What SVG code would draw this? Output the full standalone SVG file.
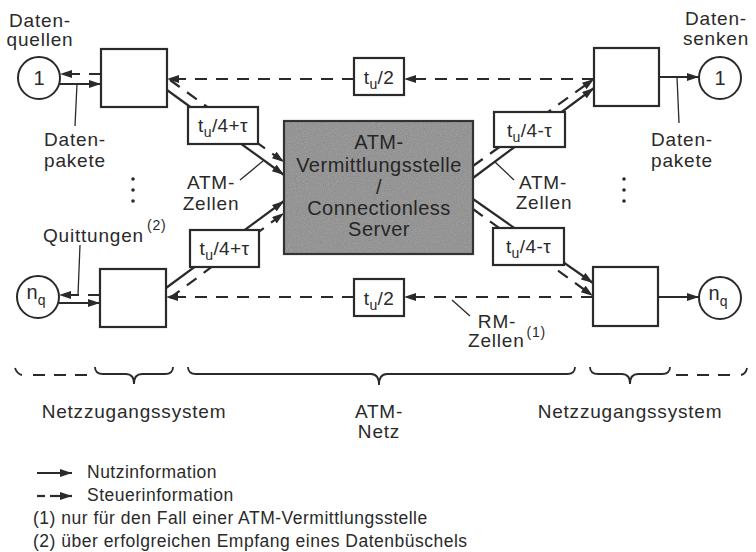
<svg xmlns="http://www.w3.org/2000/svg" width="756" height="552" viewBox="0 0 756 552">
<defs>
<style>
text { font-family: "Liberation Sans", Arial, sans-serif; fill: #2a2a2a; }
.lbl { font-size: 19px; letter-spacing: 0.8px; }
.dl { font-size: 19px; letter-spacing: 0.4px; }
.ctr { font-size: 20px; letter-spacing: 0.5px; fill: #262626; }
.leg { font-size: 17.5px; letter-spacing: 0.5px; }
.box { fill: #fff; stroke: #2a2a2a; stroke-width: 2.2; }
.node { fill: #fff; stroke: #2a2a2a; stroke-width: 2; }
.sol { fill: none; stroke: #2a2a2a; stroke-width: 2.2; }
.dsh { fill: none; stroke: #2a2a2a; stroke-width: 2.2; stroke-dasharray: 12 9; }
.thin { fill: none; stroke: #2a2a2a; stroke-width: 1.3; }
.brace { fill: none; stroke: #2a2a2a; stroke-width: 1.8; }
.arr { marker-end: url(#ah); }
.dot { fill: #2a2a2a; }
</style>
<marker id="ah" markerUnits="userSpaceOnUse" markerWidth="12" markerHeight="8" refX="12" refY="4" orient="auto">
<path d="M0,0 L12,4 L0,8 z" fill="#2a2a2a"/>
</marker>
<filter id="grain" x="0" y="0" width="1" height="1">
<feTurbulence type="fractalNoise" baseFrequency="0.85" numOctaves="2" seed="4"/>
<feColorMatrix type="saturate" values="0"/>
</filter>
</defs>
<rect width="756" height="552" fill="#fff"/>

<!-- connectors -->
<g id="connectors">
<line class="sol arr" x1="60" y1="84" x2="101" y2="84"/>
<line class="dsh arr" x1="101" y1="74" x2="60" y2="74"/>
<line class="sol arr" x1="59" y1="303" x2="100" y2="303"/>
<line class="dsh arr" x1="100" y1="295" x2="59" y2="295"/>
<line class="sol arr" x1="659" y1="77" x2="699" y2="77"/>
<line class="sol arr" x1="658" y1="297" x2="699" y2="297"/>
<line class="dsh arr" x1="594" y1="79" x2="404" y2="79"/>
<line class="dsh arr" x1="354" y1="79" x2="167" y2="79"/>
<line class="dsh arr" x1="593" y1="297" x2="404" y2="297"/>
<line class="dsh arr" x1="354" y1="297" x2="166" y2="297"/>
<line class="sol arr" x1="167" y1="90" x2="284" y2="175"/>
<line class="dsh arr" x1="170" y1="80" x2="284" y2="162"/>
<line class="sol arr" x1="166" y1="288" x2="284" y2="201"/>
<line class="dsh arr" x1="170" y1="298" x2="284" y2="213"/>
<line class="sol arr" x1="473" y1="178" x2="594" y2="88"/>
<line class="dsh arr" x1="473" y1="166" x2="594" y2="79"/>
<line class="sol arr" x1="473" y1="199" x2="593" y2="283"/>
<line class="dsh arr" x1="473" y1="209" x2="593" y2="296"/>
<line class="thin" x1="77" y1="84" x2="75" y2="126"/>
<line class="thin" x1="677" y1="77" x2="679" y2="123"/>
<line class="thin" x1="80" y1="245" x2="78" y2="295"/>
<line class="thin" x1="240" y1="180" x2="263" y2="161"/>
<line class="thin" x1="495" y1="162" x2="514" y2="180"/>
<line class="thin" x1="452" y1="300" x2="470" y2="316"/>
</g>

<!-- nodes -->
<g id="src1">
<circle class="node" cx="39" cy="78" r="21"/>
<text x="39" y="85" font-size="20" text-anchor="middle">1</text>
</g>
<g id="srcN">
<circle class="node" cx="38" cy="297" r="21"/>
<text x="36" y="299" font-size="20" text-anchor="middle">n<tspan font-size="14" dy="6">q</tspan></text>
</g>
<g id="sink1">
<circle class="node" cx="720" cy="78" r="21"/>
<text x="720" y="85" font-size="20" text-anchor="middle">1</text>
</g>
<g id="sinkN">
<circle class="node" cx="720" cy="298" r="21"/>
<text x="718" y="300" font-size="20" text-anchor="middle">n<tspan font-size="14" dy="6">q</tspan></text>
</g>

<g id="nzsTL"><rect class="box" x="101" y="49" width="66" height="58"/></g>
<g id="nzsBL"><rect class="box" x="100" y="269" width="66" height="58"/></g>
<g id="nzsTR"><rect class="box" x="594" y="48" width="65" height="58"/></g>
<g id="nzsBR"><rect class="box" x="593" y="267" width="65" height="59"/></g>

<g id="atm">
<rect x="284" y="121" width="189" height="133" fill="#8d8d8d"/>
<rect x="284" y="121" width="189" height="133" filter="url(#grain)" opacity="0.35"/>
<rect x="284" y="121" width="189" height="133" fill="none" stroke="#333" stroke-width="2.2"/>
<text class="ctr" x="379" y="149" text-anchor="middle">ATM-</text>
<text class="ctr" x="379" y="172" text-anchor="middle">Vermittlungsstelle</text>
<text class="ctr" x="379" y="194" text-anchor="middle">/</text>
<text class="ctr" x="379" y="215" text-anchor="middle">Connectionless</text>
<text class="ctr" x="379" y="236" text-anchor="middle">Server</text>
</g>

<g id="delayTL">
<rect class="box" x="188" y="107" width="70" height="37"/>
<text class="dl" x="223" y="132" text-anchor="middle">t<tspan font-size="14" dy="5">u</tspan><tspan dy="-5">/4+τ</tspan></text>
</g>
<g id="delayBL">
<rect class="box" x="190" y="230" width="69" height="37"/>
<text class="dl" x="224.5" y="255" text-anchor="middle">t<tspan font-size="14" dy="5">u</tspan><tspan dy="-5">/4+τ</tspan></text>
</g>
<g id="delayTR">
<rect class="box" x="494" y="112" width="71" height="35"/>
<text class="dl" x="529.5" y="137" text-anchor="middle">t<tspan font-size="14" dy="5">u</tspan><tspan dy="-5">/4-τ</tspan></text>
</g>
<g id="delayBR">
<rect class="box" x="493" y="228" width="71" height="37"/>
<text class="dl" x="528.5" y="253" text-anchor="middle">t<tspan font-size="14" dy="5">u</tspan><tspan dy="-5">/4-τ</tspan></text>
</g>
<g id="rmTop">
<rect class="box" x="354" y="58" width="50" height="37"/>
<text class="dl" x="379" y="84" text-anchor="middle">t<tspan font-size="14" dy="5">u</tspan><tspan dy="-5">/2</tspan></text>
</g>
<g id="rmBot">
<rect class="box" x="354" y="279" width="50" height="37"/>
<text class="dl" x="379" y="305" text-anchor="middle">t<tspan font-size="14" dy="5">u</tspan><tspan dy="-5">/2</tspan></text>
</g>

<!-- labels -->
<g id="labels">
<text class="lbl" x="40" y="27" text-anchor="middle">Daten-</text>
<text class="lbl" x="40" y="46" text-anchor="middle">quellen</text>
<text class="lbl" x="716" y="25" text-anchor="middle">Daten-</text>
<text class="lbl" x="716" y="45" text-anchor="middle">senken</text>
<text class="lbl" x="75" y="146" text-anchor="middle">Daten-</text>
<text class="lbl" x="75" y="167" text-anchor="middle">pakete</text>
<text class="lbl" x="682" y="146" text-anchor="middle">Daten-</text>
<text class="lbl" x="682" y="167" text-anchor="middle">pakete</text>
<text class="lbl" x="211" y="189" text-anchor="middle">ATM-</text>
<text class="lbl" x="211" y="210" text-anchor="middle">Zellen</text>
<text class="lbl" x="543" y="189" text-anchor="middle">ATM-</text>
<text class="lbl" x="544" y="209" text-anchor="middle">Zellen</text>
<text class="lbl" x="43" y="242">Quittungen<tspan font-size="14" dx="3" dy="-12">(2)</tspan></text>
<text class="lbl" x="497" y="328" text-anchor="middle">RM-</text>
<text class="lbl" x="468" y="347">Zellen<tspan font-size="14" dx="2" dy="-10">(1)</tspan></text>
<circle class="dot" cx="133" cy="179" r="1.8"/>
<circle class="dot" cx="133" cy="190" r="1.8"/>
<circle class="dot" cx="133" cy="201" r="1.8"/>
<circle class="dot" cx="624" cy="179" r="1.8"/>
<circle class="dot" cx="624" cy="190" r="1.8"/>
<circle class="dot" cx="624" cy="201" r="1.8"/>
</g>

<!-- braces -->
<g id="braces">
<path class="brace" d="M15,368 Q17,374 22,375"/>
<line class="brace" x1="33" y1="375" x2="93" y2="375" stroke-dasharray="12 9"/>
<path class="brace" d="M95,367 Q95,374 103,374 L126,374 Q134,374 134,384 Q134,374 142,374 L165,374 Q173,374 173,367"/>
<path class="brace" d="M188,367 Q188,374 196,374 L371,374 Q379,374 379,385 Q379,374 387,374 L567,374 Q575,374 575,367"/>
<path class="brace" d="M590,367 Q590,374 598,374 L622,374 Q630,374 630,384 Q630,374 638,374 L662,374 Q670,374 670,367"/>
<line class="brace" x1="676" y1="375" x2="736" y2="375" stroke-dasharray="12 9"/>
<path class="brace" d="M741,375 Q746,374 747,368"/>
<text class="lbl" x="134" y="418" text-anchor="middle">Netzzugangssystem</text>
<text class="lbl" x="379" y="418" text-anchor="middle">ATM-</text>
<text class="lbl" x="379" y="438" text-anchor="middle">Netz</text>
<text class="lbl" x="630" y="418" text-anchor="middle">Netzzugangssystem</text>
</g>

<!-- legend -->
<g id="legend">
<line class="sol arr" x1="37" y1="473" x2="72" y2="473"/>
<line class="sol" x1="37" y1="496" x2="45" y2="496"/>
<line class="sol arr" x1="50" y1="496" x2="72" y2="496"/>
<text class="leg" x="87" y="478">Nutzinformation</text>
<text class="leg" x="87" y="501">Steuerinformation</text>
<text class="leg" x="33" y="524">(1) nur für den Fall einer ATM-Vermittlungsstelle</text>
<text class="leg" x="33" y="547">(2) über erfolgreichen Empfang eines Datenbüschels</text>
</g>
</svg>
